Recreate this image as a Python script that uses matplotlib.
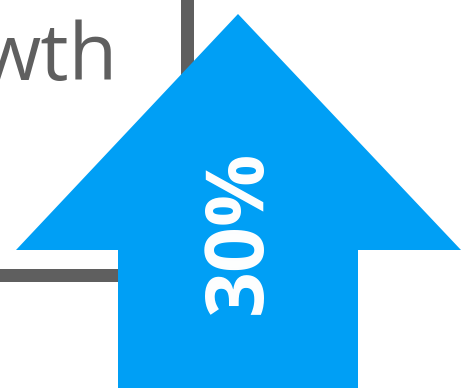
import matplotlib
matplotlib.use("Agg")
import matplotlib.pyplot as plt
from matplotlib.patches import Polygon, Rectangle

# data
growth_label = "Growth"
growth_pct = [30]
value_labels = [f"{v}%" for v in growth_pct]

blue = "#009ff5"
gray = "#5f5f5f"

W, H, DPI = 462, 390, 100
fig = plt.figure(figsize=(W / DPI, H / DPI), dpi=DPI)
ax = fig.add_axes([0, 0, 1, 1])
ax.set_xlim(0, W)
ax.set_ylim(H, 0)
ax.axis("off")

# gray frame pieces behind the arrow
ax.add_patch(Rectangle((181, -5), 13, 150, color=gray, lw=0, zorder=1))
ax.add_patch(Rectangle((-5, 269), 130, 13, color=gray, lw=0, zorder=1))

# title fragment (cropped)
ax.text(117, 80, growth_label[-3:], ha="right", va="baseline",
        fontsize=57, color=gray, family="Open Sans", zorder=1)

# up arrow
tip = (238, 14)
head_y, head_l, head_r = 250, 16, 461
shaft_l, shaft_r, bottom = 118, 358, 388
arrow = [tip, (head_r, head_y), (shaft_r, head_y), (shaft_r, bottom),
         (shaft_l, bottom), (shaft_l, head_y), (head_l, head_y)]
ax.add_patch(Polygon(arrow, closed=True, color=blue, lw=0, zorder=2))

ax.text(240, 232, value_labels[0], rotation=90, ha="center", va="center",
        fontsize=58, fontweight="bold", color="white", family="Open Sans",
        zorder=3)

fig.savefig("out.png", dpi=DPI)
